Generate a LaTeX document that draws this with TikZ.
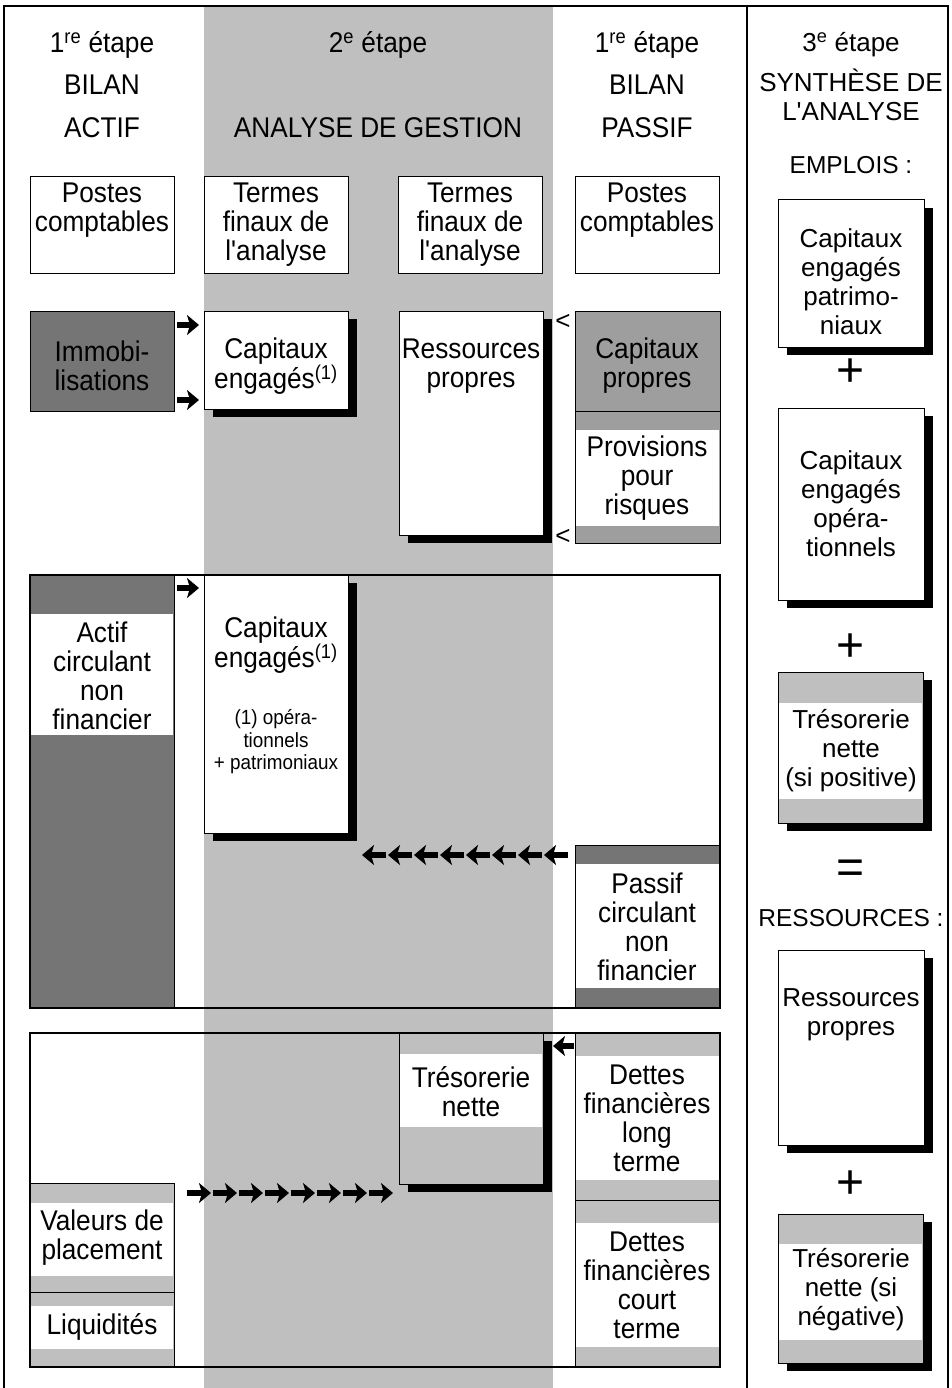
\documentclass[tikz,border=0pt]{standalone}
\usepackage{fontspec}
\setmainfont{Liberation Sans}
\newfontfamily\narrowsans[FakeStretch=0.92]{Liberation Sans}
\newfontfamily\plainsans{Liberation Sans}
\usepackage{tikz}
\usetikzlibrary{arrows.meta,shadows,calc}
\definecolor{bandgray}{gray}{0.75}
\definecolor{propgray}{gray}{0.62}
\definecolor{deepgray}{gray}{0.46}
\newcommand{\lefttxt}{\narrowsans\fontsize{28.5}{29}\selectfont}
\newcommand{\righttxt}{\plainsans\fontsize{26}{29}\selectfont}
\newcommand{\smalltxt}{\narrowsans\fontsize{20.5}{22.5}\selectfont}
\newcommand{\bigsign}{\plainsans\fontsize{48}{48}\selectfont}
\tikzset{
  cell/.style={draw, line width=1pt, fill=white, inner sep=0pt, outer sep=0pt, anchor=north west},
  shad/.style={drop shadow={shadow xshift=9pt, shadow yshift=-8pt, fill=black, opacity=1}},
  ltext/.style={font=\lefttxt, align=center, inner sep=0pt},
  rtext/.style={font=\righttxt, align=center, inner sep=0pt},
  frame/.style={draw, line width=2pt, fill=none, inner sep=0pt, outer sep=0pt, anchor=north west},
  bigarrow/.style={line width=6pt, -{Stealth[length=12pt, width=20pt, inset=3pt]}},
}
% box from (x1,y1) to (x2,y2), y counted downwards
\newcommand{\cellbox}[6]{%
  \node[cell, minimum width={#4-#2}, minimum height={#5-#3}, #6] (#1) at (#2,#3) {};}
\newcommand{\whiteband}[4]{%
  \fill[white] (#1+1,#3) rectangle (#2-1,#4);}

\begin{document}
\begin{tikzpicture}[x=1pt, y=-1pt]
  \useasboundingbox (0,0) rectangle (951,1388);
  % background band and frame
  \fill[bandgray] (204,6) rectangle (553,1388);
  \draw[line width=1.5pt] (4,1388) -- (4,6) -- (948,6) -- (948,1388);
  \draw[line width=2pt] (747,6) -- (747,1388);

  % headers
  \node[ltext] (hA1) at (102,45) {1\textsuperscript{re} étape};
  \node[ltext] (hA2) at (102,85) {BILAN};
  \node[ltext] (hA3) at (102,128) {ACTIF};
  \node[ltext] (hB1) at (378,45) {2\textsuperscript{e} étape};
  \node[ltext] (hB3) at (378,128) {ANALYSE DE GESTION};
  \node[ltext] (hD1) at (647,45) {1\textsuperscript{re} étape};
  \node[ltext] (hD2) at (647,85) {BILAN};
  \node[ltext] (hD3) at (647,128) {PASSIF};
  \node[rtext] (hR1) at (851,45) {3\textsuperscript{e} étape};
  \node[rtext] (hR2) at (851,80) {SYNTHÈSE DE};
  \node[rtext] (hR3) at (851,112) {L'ANALYSE};
  \node[rtext, font=\plainsans\fontsize{24.5}{29}\selectfont] (hR4) at (851,165) {EMPLOIS :};

  \cellbox{postesA}{30}{177}{174}{273}{}
  \cellbox{termesB}{204}{177}{348}{273}{}
  \cellbox{termesC}{398}{177}{542}{273}{}
  \cellbox{postesD}{575}{177}{719}{273}{}
  \node[ltext] (postesAt) at (102,210) {Postes\\comptables};
  \node[ltext] (termesBt) at (276,225) {Termes\\finaux de\\l'analyse};
  \node[ltext] (termesCt) at (470,225) {Termes\\finaux de\\l'analyse};
  \node[ltext] (postesDt) at (647,210) {Postes\\comptables};

  % immobilisations / capitaux propres
  \cellbox{immo}{30}{311}{174}{411}{fill=deepgray}
  \cellbox{capengA}{204}{311}{348}{409}{shad}
  \cellbox{ressA}{399}{311}{543}{535}{shad}
  \cellbox{cappro}{575}{311}{720}{411}{fill=propgray}
  \cellbox{provis}{575}{411}{720}{543}{fill=propgray}
  \whiteband{575}{720}{430}{526}
  \node[ltext] (immot) at (102,366) {Immobi-\\lisations};
  \node[ltext] (capengAt) at (276,366) {Capitaux\\engagés\textsuperscript{(1)}};
  \node[ltext] (ressAt) at (471,366) {Ressources\\propres};
  \node[ltext] (capprot) at (647,366) {Capitaux\\propres};
  \node[ltext] (provist) at (647,478) {Provisions\\pour\\risques};
  \draw[bigarrow] ([xshift=3pt, yshift=-14pt]immo.north east) -- ([xshift=-5pt, yshift=-14pt]capengA.north west);
  \draw[bigarrow] ([xshift=3pt, yshift=-89pt]immo.north east) -- ([xshift=-5pt, yshift=-89pt]capengA.north west);
  \node[font=\plainsans\fontsize{26}{26}\selectfont, inner sep=0pt] (ltA) at (563,322) {<};
  \node[font=\plainsans\fontsize{26}{26}\selectfont, inner sep=0pt] (ltB) at (563,537) {<};

  % circulant
  \cellbox{actif}{30}{575}{174}{1008}{fill=deepgray}
  \whiteband{30}{174}{614}{735}
  \cellbox{capengB}{204}{575}{348}{833}{shad}
  \cellbox{passif}{575}{845}{720}{1008}{fill=deepgray}
  \whiteband{575}{720}{864}{988}
  \node[ltext] (actift) at (102,676) {Actif\\circulant\\non\\financier};
  \node[ltext] (capengBt) at (276,645) {Capitaux\\engagés\textsuperscript{(1)}};
  \node[font=\smalltxt, align=center, inner sep=0pt] (capengBn) at (276,742) {(1) opéra-\\tionnels\\+ patrimoniaux};
  \node[ltext] (passift) at (647,927) {Passif\\circulant\\non\\financier};
  \draw[bigarrow] ([xshift=3pt, yshift=-13pt]actif.north east) -- ([xshift=-5pt, yshift=-13pt]capengB.north west);
  \coordinate (lrow) at (362,855);
  \foreach \k in {0,...,7}
    \draw[bigarrow] ($(lrow)+(26*\k+24,0)$) -- ($(lrow)+(26*\k,0)$);
  \node[frame, minimum width=690, minimum height=433] (midframe) at (30,575) {};

  % tresorerie
  \cellbox{tres}{399}{1033}{543}{1184}{fill=bandgray, shad}
  \whiteband{399}{543}{1054}{1127}
  \cellbox{valeurs}{30}{1183}{174}{1292}{fill=bandgray}
  \whiteband{30}{174}{1203}{1276}
  \cellbox{liquid}{30}{1292}{174}{1367}{fill=bandgray}
  \whiteband{30}{174}{1306}{1349}
  \cellbox{dettesL}{575}{1033}{720}{1200}{fill=bandgray}
  \whiteband{575}{720}{1056}{1180}
  \cellbox{dettesC}{575}{1200}{720}{1367}{fill=bandgray}
  \whiteband{575}{720}{1223}{1347}
  \node[ltext] (trest) at (471,1092) {Trésorerie\\nette};
  \node[ltext] (valeurst) at (102,1238) {Valeurs de\\placement};
  \node[ltext] (liquidt) at (102,1327) {Liquidités};
  \node[ltext] (dettesLt) at (647,1118) {Dettes\\financières\\long\\terme};
  \node[ltext] (dettesCt) at (647,1285) {Dettes\\financières\\court\\terme};
  \draw[bigarrow] ([xshift=-1pt, yshift=-13pt]dettesL.north west) -- ([xshift=10pt, yshift=-13pt]tres.north east);
  \coordinate (rrow) at (187,1193);
  \foreach \k in {0,...,7}
    \draw[bigarrow] ($(rrow)+(26*\k,0)$) -- ($(rrow)+(26*\k+24,0)$);
  \node[frame, minimum width=690, minimum height=334] (botframe) at (30,1033) {};

  % synthese
  \cellbox{synCapP}{778}{200}{924}{347}{shad}
  \node[rtext] (synCapPt) at (851,282) {Capitaux\\engagés\\patrimo-\\niaux};
  \node[font=\bigsign, inner sep=0pt] (plusA) at (851,373) {+};
  \cellbox{synCapO}{778}{408}{924}{600}{shad}
  \node[rtext] (synCapOt) at (851,504) {Capitaux\\engagés\\opéra-\\tionnels};
  \node[font=\bigsign, inner sep=0pt] (plusB) at (851,648) {+};
  \cellbox{synTresP}{778}{672}{923}{823}{fill=bandgray, shad}
  \whiteband{778}{923}{703}{799}
  \node[rtext] (synTresPt) at (851,751) {Trésorerie\\nette\\(si positive)};
  \node[font=\bigsign, inner sep=0pt] (equal) at (851,872) {=};
  \node[rtext, font=\plainsans\fontsize{24.5}{29}\selectfont] (hR5) at (851,918) {RESSOURCES :};
  \cellbox{synRess}{778}{950}{924}{1145}{shad}
  \node[rtext] (synResst) at (851,1015) {Ressources\\propres};
  \node[font=\bigsign, inner sep=0pt] (plusC) at (851,1185) {+};
  \cellbox{synTresN}{778}{1214}{923}{1363}{fill=bandgray, shad}
  \whiteband{778}{923}{1244}{1340}
  \node[rtext] (synTresNt) at (851,1290) {Trésorerie\\nette (si\\négative)};
\end{tikzpicture}
\end{document}
